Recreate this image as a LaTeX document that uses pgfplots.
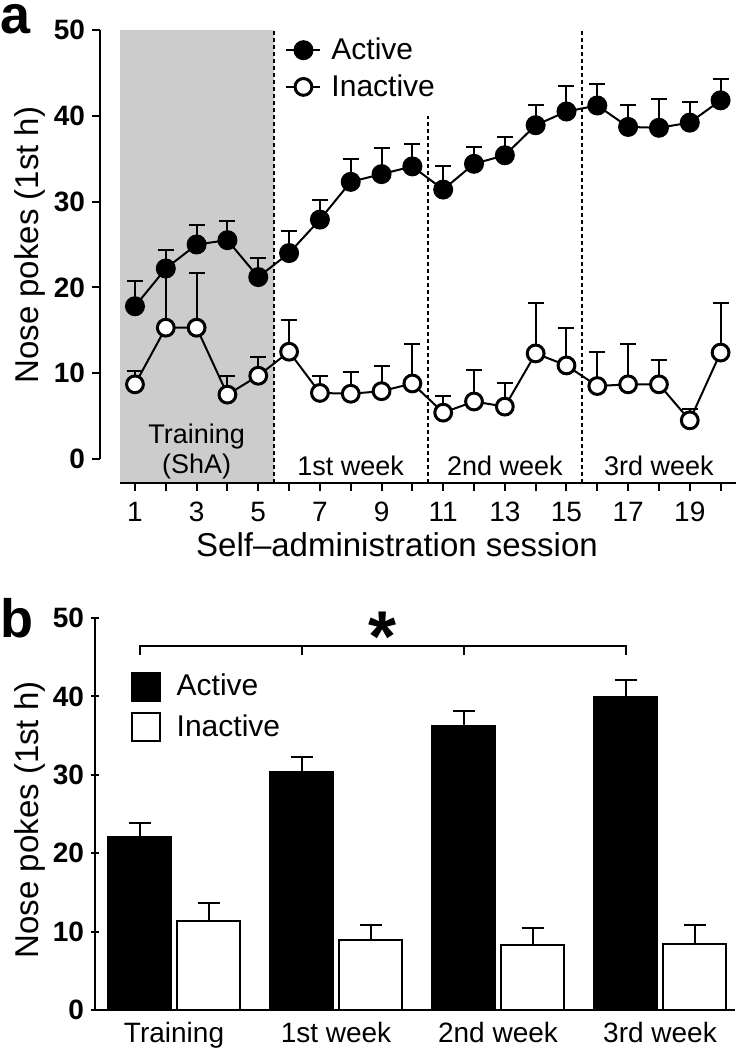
\documentclass[border=0pt]{standalone}
\usepackage{fontspec}
\setmainfont{Liberation Sans}
\usepackage{pgfplots}
\pgfplotsset{compat=1.18}
\pgfplotsset{
  every axis/.append style={scale only axis, clip=false,
    /pgf/number format/assume math mode=true,
    tick align=outside, major tick length=4pt,
    tick style={black, line width=1pt},
    yticklabel style={font=\bfseries\fontsize{14pt}{16pt}\selectfont},
    xticklabel style={font=\fontsize{14pt}{16pt}\selectfont},
    label style={font=\fontsize{16.5pt}{18pt}\selectfont},
  },
  errstyle/.style={error bars/.cd, y dir=plus, y explicit,
    error bar style={line width=1pt, black},
    error mark options={rotate=90, line width=1pt, mark size=#1, black}},
}
\begin{document}
\begin{tikzpicture}
\path[use as bounding box] (0,0) rectangle (372pt,525pt);
% ---------- panel a ----------
\begin{axis}[at={(50pt,283.5pt)}, anchor=south west,
  width=318pt, height=226.5pt,
  xmin=-0.135, xmax=20.5, ymin=-2.8, ymax=50,
  axis lines*=left, axis line style={draw=none},
  xtick={1,...,20},
  xticklabels={1,,3,,5,,7,,9,,11,,13,,15,,17,,19,},
  xticklabel style={yshift=-2pt},
  ytick={0,10,...,50},
  xlabel={Self–administration session},
  ylabel={Nose pokes (1st h)},
  xlabel style={at={(axis description cs:0.467,0)}, anchor=center, yshift=-31pt},
  ylabel style={at={(axis description cs:-0.110,0.525)}, anchor=center, rotate=0},
  legend style={at={(axis cs:5.87,49.6)}, anchor=north west, draw=none, fill=none,
    font=\fontsize{15pt}{17pt}\selectfont, row sep=2pt, inner sep=0pt},
  legend cell align=left,
  legend image code/.code={\draw[#1, mark repeat=2, mark phase=2] plot coordinates {(0pt,0pt) (8.5pt,0pt) (17pt,0pt)}; \path (20pt,0pt);},
]
\fill[gray!40] (axis cs:0.5,-2.8) rectangle (axis cs:5.5,50);
\draw[line width=1pt, dash pattern=on 2pt off 1.5pt] (axis cs:5.5,-2.8) -- (axis cs:5.5,50);
\draw[line width=1pt, dash pattern=on 2pt off 1.5pt] (axis cs:10.5,-2.8) -- (axis cs:10.5,40);
\draw[line width=1pt, dash pattern=on 2pt off 1.5pt] (axis cs:15.5,-2.8) -- (axis cs:15.5,50);
\draw[line width=1pt] (axis cs:0.5,-2.8) -- (axis cs:20.5,-2.8);
\draw[line width=1pt] (axis cs:-0.135,0) -- (axis cs:-0.135,50);
\node[font=\fontsize{13.5pt}{15pt}\selectfont, align=center] at (axis cs:3,0.9) {Training\\(ShA)};
\node[font=\fontsize{13.5pt}{15pt}\selectfont] at (axis cs:8,-0.8) {1st week};
\node[font=\fontsize{13.5pt}{15pt}\selectfont] at (axis cs:13,-0.8) {2nd week};
\node[font=\fontsize{13.5pt}{15pt}\selectfont] at (axis cs:18,-0.8) {3rd week};
\addlegendimage{black, line width=1pt, mark=*, mark size=4.5pt}
\addlegendentry{Active}
\addlegendimage{black, line width=1pt, mark=*, mark size=4.2pt, mark options={fill=white, line width=1.5pt}}
\addlegendentry{Inactive}
\addplot[black, line width=1pt, mark=*, mark size=4.2pt, mark options={fill=white, line width=1.5pt}, forget plot,
  errstyle=4pt]
coordinates {
(1,8.7) +- (0,1.6)
(2,15.3) +- (0,6.7)
(3,15.3) +- (0,6.4)
(4,7.5) +- (0,2.2)
(5,9.7) +- (0,2.2)
(6,12.5) +- (0,3.7)
(7,7.7) +- (0,2.0)
(8,7.6) +- (0,2.5)
(9,7.9) +- (0,2.9)
(10,8.8) +- (0,4.6)
(11,5.4) +- (0,1.9)
(12,6.7) +- (0,3.7)
(13,6.1) +- (0,2.7)
(14,12.3) +- (0,5.9)
(15,10.9) +- (0,4.4)
(16,8.5) +- (0,4.0)
(17,8.7) +- (0,4.7)
(18,8.7) +- (0,2.8)
(19,4.5) +- (0,1.3)
(20,12.4) +- (0,5.8)
};
\addplot[black, line width=1pt, mark=*, mark size=4.5pt, forget plot,
  errstyle=4pt]
coordinates {
(1,17.8) +- (0,3.0)
(2,22.2) +- (0,2.2)
(3,25.0) +- (0,2.3)
(4,25.5) +- (0,2.2)
(5,21.2) +- (0,2.2)
(6,24.0) +- (0,2.6)
(7,27.9) +- (0,2.3)
(8,32.3) +- (0,2.7)
(9,33.2) +- (0,3.1)
(10,34.1) +- (0,2.6)
(11,31.4) +- (0,2.8)
(12,34.4) +- (0,2.0)
(13,35.4) +- (0,2.1)
(14,38.9) +- (0,2.3)
(15,40.5) +- (0,3.0)
(16,41.2) +- (0,2.5)
(17,38.7) +- (0,2.5)
(18,38.6) +- (0,3.3)
(19,39.2) +- (0,2.4)
(20,41.8) +- (0,2.5)
};
\end{axis}
\node[font=\bfseries\fontsize{27pt}{29pt}\selectfont, anchor=base west, inner sep=0pt] at (0pt,508pt) {a};
% ---------- panel b ----------
\begin{axis}[at={(47.5pt,20pt)}, anchor=south west,
  width=320pt, height=196pt,
  xmin=-0.488, xmax=3.463, ymin=0, ymax=50,
  axis lines=left, axis line style={-, line width=1pt},
  xtick={0,1,2,3},
  xticklabels={Training,1st week,2nd week,3rd week},
  xticklabel style={yshift=-0.5pt},
  major x tick style={draw=none},
  ytick={0,10,...,50},
  ylabel={Nose pokes (1st h)},
  ylabel style={at={(axis description cs:-0.1016,0.485)}, anchor=center, rotate=0},
  legend style={at={(axis cs:-0.27,43.4)}, anchor=north west, draw=none, fill=none,
    font=\fontsize{15pt}{17pt}\selectfont, row sep=4pt, inner sep=0pt},
  legend cell align=left,
  legend image code/.code={\draw[#1, line width=1pt] (0pt,-7pt) rectangle (14pt,7pt); \path (20pt,0pt);},
]
\addplot[ybar, bar width=0.389, bar shift=0pt, fill=black, draw=black, line width=1pt, errstyle=5.5pt]
coordinates {(-0.213,22.1) +- (0,1.8) (0.787,30.3) +- (0,2.0) (1.787,36.2) +- (0,2.0) (2.787,39.9) +- (0,2.2)};
\addlegendentry{Active}
\addplot[ybar, bar width=0.389, bar shift=0pt, fill=white, draw=black, line width=1pt, errstyle=5.5pt]
coordinates {(0.213,11.3) +- (0,2.4) (1.213,8.9) +- (0,2.0) (2.213,8.3) +- (0,2.1) (3.213,8.4) +- (0,2.4)};
\addlegendentry{Inactive}
\draw[line width=1pt] (axis cs:-0.213,45.3) -- (axis cs:-0.213,46.4) -- (axis cs:2.787,46.4) -- (axis cs:2.787,45.3);
\draw[line width=1pt] (axis cs:0.787,46.4) -- (axis cs:0.787,45.3);
\draw[line width=1pt] (axis cs:1.787,46.4) -- (axis cs:1.787,45.3);
\node[font=\bfseries\fontsize{36pt}{36pt}\selectfont] at (axis cs:1.287,47.6) {*};
\end{axis}
\node[font=\bfseries\fontsize{27pt}{29pt}\selectfont, anchor=base west, inner sep=0pt] at (0pt,206pt) {b};
\end{tikzpicture}
\end{document}
